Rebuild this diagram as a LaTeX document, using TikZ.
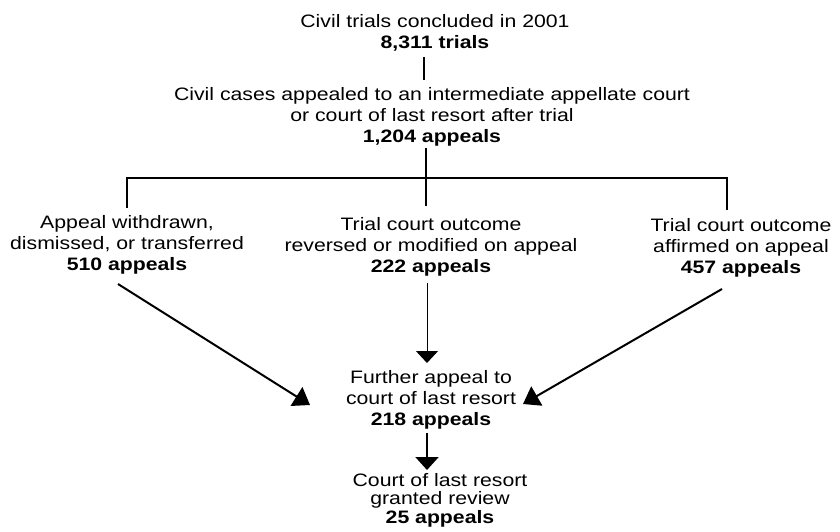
\documentclass[tikz,border=0pt]{standalone}
\usepackage{fontspec}
\setmainfont{Liberation Sans}[FakeStretch=1.18]
\usetikzlibrary{arrows.meta}
\begin{document}
\begin{tikzpicture}[x=1pt,y=-1pt,
  lbl/.style={align=center, inner sep=0pt, anchor=base, font=\fontsize{18}{21}\selectfont},
  lbltight/.style={lbl, font=\fontsize{18}{18.5}\selectfont},
  ln/.style={line width=2pt, line join=miter},
  arr/.style={line width=2pt, -{Triangle[length=16pt,width=22pt]}},
  thinarr/.style={line width=1pt, -{Triangle[length=12pt,width=22pt]}},
  vline/.style={line width=2pt, -{Triangle[length=13pt,width=23pt]}}]
\useasboundingbox (0,0) rectangle (840,531);
\fill[white] (0,0) rectangle (840,531);

% text blocks (anchor = baseline of the last line)
\node[lbl] (top) at (435,48) {Civil trials concluded in 2001\\\textbf{8,311 trials}};
\node[lbl] (appealed) at (432,142) {Civil cases appealed to an intermediate appellate court\\or court of last resort after trial\\\textbf{1,204 appeals}};
\node[lbl] (withdrawn) at (127,270) {Appeal withdrawn,\\dismissed, or transferred\\\textbf{510 appeals}};
\node[lbl] (reversed) at (431,272) {Trial court outcome\\reversed or modified on appeal\\\textbf{222 appeals}};
\node[lbl] (affirmed) at (741,273) {Trial court outcome\\affirmed on appeal\\\textbf{457 appeals}};
\node[lbl] (further) at (431,425) {Further appeal to\\court of last resort\\\textbf{218 appeals}};
\node[lbltight] (granted) at (440,523) {Court of last resort\\granted review\\\textbf{25 appeals}};

% connector end points
\coordinate (t1) at (424,57);
\coordinate (t2) at (424,80);
\coordinate (a1) at (426,148);
\coordinate (a2) at (426,206);
\coordinate (bl) at (127,178);
\coordinate (bl2) at (127,208);
\coordinate (br) at (727,178);
\coordinate (br2) at (727,210);
\coordinate (w1) at (118,284);
\coordinate (w2) at (310,405);
\coordinate (r1) at (427,283);
\coordinate (r2) at (427,363);
\coordinate (f1) at (722,289);
\coordinate (f2) at (523,404);
\coordinate (g1) at (427,433);
\coordinate (g2) at (427,470);

\draw[ln] (t1) -- (t2);
\draw[ln] (a1) -- (a2);
\draw[ln] (bl2) -- (bl) -- (br) -- (br2);
\draw[arr] (w1) -- (w2);
\draw[thinarr] (r1) -- (r2);
\draw[arr] (f1) -- (f2);
\draw[vline] (g1) -- (g2);
\end{tikzpicture}
\end{document}
